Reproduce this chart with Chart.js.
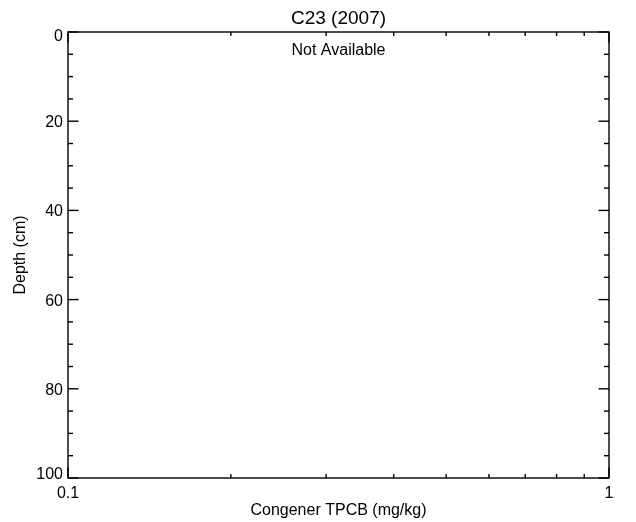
<!DOCTYPE html>
<html>
<head>
<meta charset="utf-8">
<title>C23 (2007)</title>
<script src="https://cdn.jsdelivr.net/npm/chart.js@4/dist/chart.umd.min.js"></script>
<style>
  html, body { margin: 0; padding: 0; background: #ffffff; }
  canvas { display: block; }
</style>
</head>
<body>
<canvas id="core" width="636" height="522"></canvas>
<script>
// Core C23, 2007 sampling: no congener TPCB results
const chartTitle = 'C23 (2007)';
const noDataNote = 'Not Available';
const xAxisTitle = 'Congener TPCB (mg/kg)';
const yAxisTitle = 'Depth (cm)';

// measured values (none reported for this core/year)
const tpcbValues = [];
const depthValues = [];

// axis ticks
const xMajorTicks = [0.1, 1];
const xTickLabels = ['0.1', '1'];
const xMinorTicks = [0.2, 0.3, 0.4, 0.5, 0.6, 0.7, 0.8, 0.9];
const yMajorTicks = [0, 20, 40, 60, 80, 100];
const yTickLabels = ['0', '20', '40', '60', '80', '100'];
const yMinorTicks = [5, 10, 15, 25, 30, 35, 45, 50, 55, 65, 70, 75, 85, 90, 95];

const FONT = '"Liberation Sans", Arial, Helvetica, sans-serif';

const points = tpcbValues.map((v, i) => ({ x: v, y: depthValues[i] }));

// IDL-style frame: box axes with inward ticks on all four sides
const framePlugin = {
  id: 'frame',
  afterDraw(chart) {
    const ctx = chart.ctx;
    const xs = chart.scales.x, ys = chart.scales.y;
    const L = chart.chartArea.left, R = chart.chartArea.right;
    const T = chart.chartArea.top, B = chart.chartArea.bottom;
    ctx.save();
    ctx.strokeStyle = '#000';
    ctx.lineWidth = 1.4;
    ctx.lineCap = 'butt';
    ctx.strokeRect(L, T, R - L, B - T);

    const seg = (x1, y1, x2, y2) => {
      ctx.beginPath(); ctx.moveTo(x1, y1); ctx.lineTo(x2, y2); ctx.stroke();
    };
    // y ticks (left and right)
    yMajorTicks.forEach(v => {
      const p = ys.getPixelForValue(v);
      seg(L, p, L + 10.5, p);
      seg(R, p, R - 10.5, p);
    });
    yMinorTicks.forEach(v => {
      const p = ys.getPixelForValue(v);
      seg(L, p, L + 5, p);
      seg(R, p, R - 5, p);
    });
    // x ticks (bottom and top)
    xMajorTicks.forEach(v => {
      const p = xs.getPixelForValue(v);
      seg(p, B, p, B - 10.5);
      seg(p, T, p, T + 10.5);
    });
    xMinorTicks.forEach(v => {
      const p = xs.getPixelForValue(v);
      seg(p, B, p, B - 4);
      seg(p, T, p, T + 4);
    });

    ctx.fillStyle = '#000';
    ctx.font = '16px ' + FONT;
    // y tick labels, kept inside the frame's vertical extent
    ctx.textAlign = 'right';
    ctx.textBaseline = 'alphabetic';
    yMajorTicks.forEach((v, i) => {
      const p = ys.getPixelForValue(v);
      const base = Math.min(Math.max(p + 6, T + 9), B + 1);
      ctx.fillText(yTickLabels[i], L - 5, base);
    });
    // x tick labels
    ctx.textAlign = 'center';
    xMajorTicks.forEach((v, i) => {
      ctx.fillText(xTickLabels[i], xs.getPixelForValue(v), 498);
    });

    const cx = (L + R) / 2;
    // note under the top axis
    ctx.fillText(noDataNote, cx, 55);
    // x axis title
    ctx.fillText(xAxisTitle, cx, 515);
    // y axis title
    ctx.save();
    ctx.translate(25, (T + B) / 2);
    ctx.rotate(-Math.PI / 2);
    ctx.textAlign = 'center';
    ctx.fillText(yAxisTitle, 0, 0);
    ctx.restore();
    // chart title
    ctx.font = '19px ' + FONT;
    ctx.fillText(chartTitle, cx, 24);
    ctx.restore();
  }
};

new Chart(document.getElementById('core'), {
  type: 'scatter',
  data: {
    datasets: [{
      label: 'Congener TPCB',
      data: points,
      borderColor: '#000',
      backgroundColor: '#000',
      showLine: true,
      pointRadius: 3
    }]
  },
  options: {
    responsive: false,
    animation: false,
    devicePixelRatio: 1,
    layout: { padding: { top: 32, right: 27, left: 0, bottom: 0 } },
    plugins: {
      legend: { display: false },
      title: { display: false },
      tooltip: { enabled: false }
    },
    scales: {
      x: {
        type: 'logarithmic',
        position: 'bottom',
        min: 0.1,
        max: 1,
        grid: { display: false },
        border: { display: false },
        ticks: { display: false },
        afterFit(s) { s.height = 44; }
      },
      y: {
        type: 'linear',
        position: 'left',
        min: 0,
        max: 100,
        reverse: true,
        grid: { display: false },
        border: { display: false },
        ticks: { display: false },
        afterFit(s) { s.width = 68; }
      }
    }
  },
  plugins: [framePlugin]
});
</script>
</body>
</html>
